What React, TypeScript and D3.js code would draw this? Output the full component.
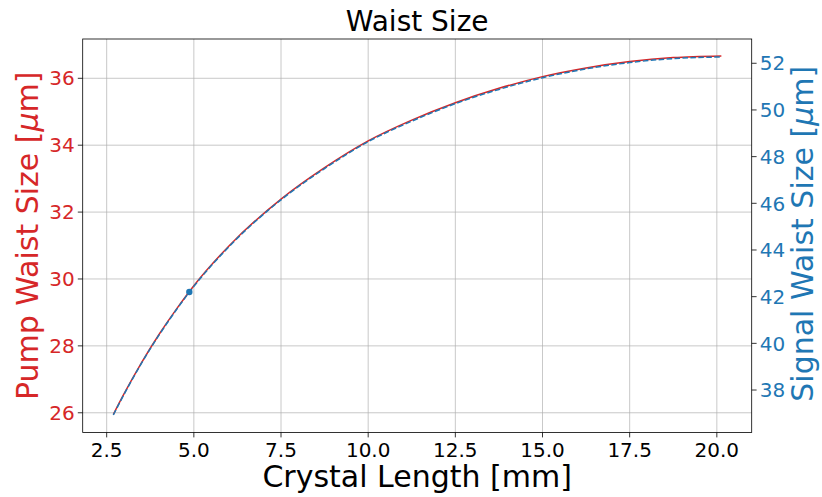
import React from "react";
import * as d3 from "d3";

const crystalLength = [2.69, 3.0, 3.5, 4.0, 4.5, 5.0, 6.0, 7.5, 8.75, 10.0, 11.25, 12.5, 13.75, 15.0, 16.25, 17.5, 18.75, 20.13];
const pumpWaist = [25.95, 26.57, 27.5, 28.34, 29.1, 29.8, 30.98, 32.39, 33.33, 34.13, 34.75, 35.27, 35.7, 36.05, 36.31, 36.5, 36.62, 36.67];
const signalWaist = [36.93, 37.82, 39.15, 40.35, 41.44, 42.44, 44.13, 46.15, 47.49, 48.64, 49.52, 50.27, 50.88, 51.38, 51.76, 52.03, 52.2, 52.27];
const markerX = [4.87];
const markerSignal = [42.2];

const xTicks = [2.5, 5.0, 7.5, 10.0, 12.5, 15.0, 17.5, 20.0];
const leftTicks = [26, 28, 30, 32, 34, 36];
const rightTicks = [38, 40, 42, 44, 46, 48, 50, 52];

const W = 822, H = 497;
const L = 82.7, R = 751.7, T = 39, B = 432.5;
const RED = "#d62728", BLUE = "#1f77b4";
const FONT = "DejaVu Sans, sans-serif";

export default function App() {
  const x = d3.scaleLinear().domain([1.812, 21.0]).range([L, R]);
  const yL = d3.scaleLinear().domain([25.41, 37.175]).range([B, T]);
  const yR = d3.scaleLinear().domain([36.18, 53.04]).range([B, T]);
  const idx = crystalLength.map((_, i) => i);
  const curve = d3.curveMonotoneX;
  const pumpPath = d3.line<number>().x(i => x(crystalLength[i])).y(i => yL(pumpWaist[i])).curve(curve)(idx) || "";
  const sigPath = d3.line<number>().x(i => x(crystalLength[i])).y(i => yR(signalWaist[i])).curve(curve)(idx) || "";

  return (
    <svg width={W} height={H} style={{ position: "absolute", left: 0, top: 0, background: "#fff" }} fontFamily={FONT}>
      <rect x={0} y={0} width={W} height={H} fill="#fff" />
      {xTicks.map(t => (
        <line key={"gx" + t} x1={x(t)} x2={x(t)} y1={T} y2={B} stroke="#b0b0b0" strokeWidth={0.8} opacity={0.85} />
      ))}
      {leftTicks.map(t => (
        <line key={"gy" + t} x1={L} x2={R} y1={yL(t)} y2={yL(t)} stroke="#b0b0b0" strokeWidth={0.8} opacity={0.85} />
      ))}
      <path d={pumpPath} fill="none" stroke={RED} strokeWidth={1.5} />
      <path d={sigPath} fill="none" stroke={BLUE} strokeWidth={1.5} strokeDasharray="5.55,2.4" />
      {markerX.map((m, i) => (
        <circle key={"m" + i} cx={x(m)} cy={yR(markerSignal[i])} r={3.2} fill={BLUE} />
      ))}
      <rect x={L} y={T} width={R - L} height={B - T} fill="none" stroke="#000" strokeWidth={0.8} />
      {xTicks.map(t => (
        <g key={"xt" + t}>
          <line x1={x(t)} x2={x(t)} y1={B} y2={B + 4.9} stroke="#000" strokeWidth={0.8} />
          <text x={x(t)} y={B + 24} fontSize={20} textAnchor="middle" fill="#000">{t.toFixed(1)}</text>
        </g>
      ))}
      {leftTicks.map(t => (
        <g key={"lt" + t}>
          <line x1={L - 4.9} x2={L} y1={yL(t)} y2={yL(t)} stroke="#000" strokeWidth={0.8} />
          <text x={L - 8} y={yL(t)} dy="0.36em" fontSize={20} textAnchor="end" fill={RED}>{t}</text>
        </g>
      ))}
      {rightTicks.map(t => (
        <g key={"rt" + t}>
          <line x1={R} x2={R + 4.9} y1={yR(t)} y2={yR(t)} stroke="#000" strokeWidth={0.8} />
          <text x={R + 8} y={yR(t)} dy="0.36em" fontSize={20} textAnchor="start" fill={BLUE}>{t}</text>
        </g>
      ))}
      <text x={(L + R) / 2} y={31} fontSize={28} textAnchor="middle" fill="#000">Waist Size</text>
      <text x={(L + R) / 2} y={487} fontSize={30} textAnchor="middle" fill="#000">Crystal Length [mm]</text>
      <text transform={`translate(37.5,${(T + B) / 2}) rotate(-90)`} fontSize={30} textAnchor="middle" fill={RED}>
        Pump Waist Size [<tspan fontStyle="italic">μ</tspan>m]
      </text>
      <text transform={`translate(813,${(T + B) / 2 - 2}) rotate(-90)`} fontSize={30} textAnchor="middle" fill={BLUE}>
        Signal Waist Size [<tspan fontStyle="italic">μ</tspan>m]
      </text>
    </svg>
  );
}
